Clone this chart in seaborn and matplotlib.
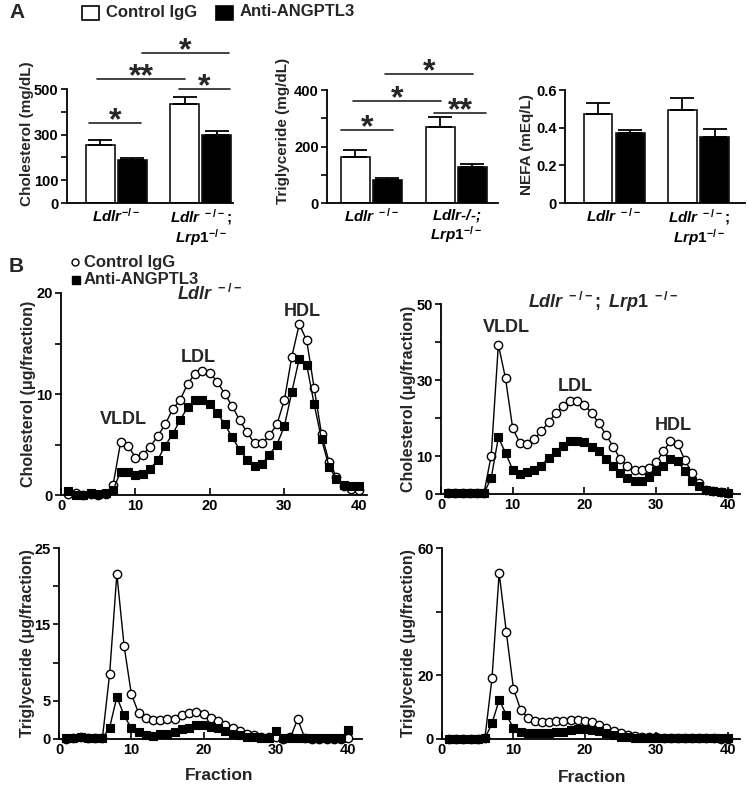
import numpy as np
import pandas as pd
import matplotlib
matplotlib.use("Agg")
import matplotlib.pyplot as plt
import seaborn as sns
from matplotlib.patches import Rectangle
from matplotlib.lines import Line2D

# ---------------- data ----------------
groups = ["Ldlr", "Ldlr;Lrp1"]
treatments = ["Control IgG", "Anti-ANGPTL3"]

chol_ctrl = [256, 434]
chol_ctrl_err = [22, 31]
chol_anti = [187, 297]
chol_anti_err = [12, 20]

tg_ctrl = [162, 268]
tg_ctrl_err = [26, 36]
tg_anti = [80, 126]
tg_anti_err = [7, 13]

nefa_ctrl = [0.473, 0.494]
nefa_ctrl_err = [0.058, 0.065]
nefa_anti = [0.371, 0.353]
nefa_anti_err = [0.014, 0.039]

fractions = list(range(1, 41))

chol_ldlr_ctrl = [0.1, 0.2, 0.0, 0.1, 0.0, 0.1, 1.0, 5.2, 4.9, 3.7, 4.0, 4.8, 5.85, 7.0, 8.5, 9.4, 11.0, 12.0, 12.3, 12.1,
                  11.2, 10.0, 8.8, 7.4, 6.2, 5.1, 5.1, 5.9, 7.0, 9.4, 13.7, 16.9, 15.3, 10.6, 6.0, 3.3, 1.8, 0.9, 0.6, 0.5]
chol_ldlr_anti = [0.4, 0.0, 0.0, 0.2, 0.1, 0.2, 0.5, 2.3, 2.3, 2.0, 2.05, 2.6, 3.5, 4.9, 6.05, 7.4, 8.7, 9.4, 9.4, 9.0,
                  8.1, 7.0, 5.7, 4.5, 3.5, 2.9, 3.1, 4.0, 5.0, 6.8, 10.2, 13.5, 12.9, 9.0, 5.5, 2.8, 1.6, 1.0, 0.9, 0.9]
chol_dko_ctrl = [0.2, 0.2, 0.2, 0.2, 0.2, 0.3, 10.1, 39.3, 30.4, 17.3, 13.4, 13.2, 14.5, 16.5, 18.9, 21.2, 23.1, 24.4, 24.4, 23.5,
                 21.3, 18.7, 15.6, 12.5, 9.2, 7.3, 6.4, 6.4, 6.8, 8.3, 11.2, 13.9, 13.2, 9.0, 5.5, 2.9, 1.1, 0.7, 0.5, 0.3]
chol_dko_anti = [0.2, 0.2, 0.2, 0.2, 0.2, 0.3, 4.2, 14.9, 10.8, 6.4, 5.3, 5.7, 6.4, 7.5, 9.5, 11.1, 12.6, 13.9, 13.9, 13.6,
                 12.5, 11.2, 9.2, 7.3, 5.5, 4.2, 3.5, 3.5, 4.6, 6.1, 7.5, 9.2, 8.6, 6.1, 3.5, 2.0, 1.1, 0.7, 0.5, 0.3]
tg_ldlr_ctrl = [0.0, 0.1, 0.2, 0.1, 0.1, 0.1, 8.5, 21.6, 12.2, 5.9, 3.4, 2.8, 2.5, 2.5, 2.6, 2.6, 3.1, 3.4, 3.5, 3.3,
                2.8, 2.3, 1.8, 1.4, 1.1, 0.7, 0.5, 0.3, 0.2, 0.2, 0.0, 0.2, 2.6, 0.1, 0.05, 0.05, 0.05, 0.05, 0.05, 0.1]
tg_ldlr_anti = [0.1, 0.1, 0.2, 0.1, 0.1, 0.1, 1.5, 5.5, 3.1, 1.4, 0.9, 0.5, 0.4, 0.6, 0.7, 0.9, 1.3, 1.5, 1.8, 1.8,
                1.6, 1.4, 1.0, 0.7, 0.5, 0.3, 0.2, 0.1, 0.1, 1.0, 0.1, 0.1, 0.1, 0.1, 0.1, 0.1, 0.1, 0.1, 0.1, 1.2]
tg_dko_ctrl = [0.1, 0.1, 0.1, 0.1, 0.1, 0.2, 19.2, 52.1, 33.6, 15.8, 9.2, 6.7, 5.5, 5.2, 5.2, 5.6, 5.8, 6.0, 6.0, 5.7,
               5.2, 4.4, 3.4, 2.5, 1.8, 1.3, 0.9, 0.7, 0.6, 0.5, 0.4, 0.4, 0.3, 0.3, 0.3, 0.2, 0.2, 0.2, 0.1, 0.1]
tg_dko_anti = [0.1, 0.1, 0.1, 0.1, 0.1, 0.2, 4.9, 12.3, 7.6, 3.4, 2.3, 2.0, 1.8, 1.8, 2.0, 2.2, 2.3, 2.8, 3.0, 3.0,
               2.8, 2.6, 1.8, 1.3, 0.7, 0.5, 0.3, 0.2, 0.2, 0.2, 0.2, 0.2, 0.2, 0.2, 0.2, 0.2, 0.2, 0.2, 0.2, 0.2]

# ---------------- style ----------------
sns.set_theme(style="ticks")
plt.rcParams["font.family"] = ["Liberation Sans", "DejaVu Sans"]
plt.rcParams["font.weight"] = "bold"
plt.rcParams["axes.linewidth"] = 1.3
plt.rcParams["axes.edgecolor"] = "black"
plt.rcParams["xtick.color"] = "black"
plt.rcParams["ytick.color"] = "black"
plt.rcParams["mathtext.fontset"] = "custom"
plt.rcParams["mathtext.rm"] = "Liberation Sans:bold"
plt.rcParams["mathtext.it"] = "Liberation Sans:italic:bold"
plt.rcParams["mathtext.bf"] = "Liberation Sans:bold"

W, H = 747, 787
fig = plt.figure(figsize=(W / 100, H / 100), dpi=100)


def add_ax(l, t, r, b):
    return fig.add_axes([l / W, 1 - b / H, (r - l) / W, (b - t) / H])


def ftext(px, py, s, **kw):
    fig.text(px / W, 1 - py / H, s, **kw)


def bar_panel(ax, ctrl, ctrl_err, anti, anti_err, ylim, yticks, yticklabels, ylabel,
              xlabels, xlim, sig, ylab_xy):
    df = pd.DataFrame({"group": groups + groups,
                       "treatment": [treatments[0]] * 2 + [treatments[1]] * 2,
                       "value": ctrl + anti})
    sns.barplot(data=df, x="group", y="value", hue="treatment", order=groups,
                hue_order=treatments, palette=["white", "black"], edgecolor="#111111",
                linewidth=1.2, width=0.76, gap=0.1, errorbar=None, legend=False, ax=ax)
    for p, e in zip(ax.patches, ctrl_err + anti_err):
        xc = p.get_x() + p.get_width() / 2
        ax.errorbar(xc, p.get_height(), yerr=[[0], [e]], color="black", lw=1.3,
                    capsize=8.5, capthick=1.3, zorder=1)
    ax.set_ylim(*ylim)
    ax.set_xlim(*xlim)
    ax.set_yticks(yticks)
    ax.set_yticklabels(yticklabels, fontsize=10.5, fontweight="bold")
    ax.set_xticks([0, 1])
    ax.set_xticklabels(xlabels, fontsize=11, fontweight="bold", fontstyle="italic",
                       linespacing=1.0, va="top")
    ax.tick_params(axis="x", length=0, pad=3)
    ax.tick_params(axis="y", length=4, width=1.2, pad=2, direction="out")
    ax.set_xlabel("")
    ax.set_ylabel(ylabel, fontsize=11, fontweight="bold", va="center")
    ax.yaxis.set_label_coords(*ylab_xy)
    sns.despine(ax=ax)
    for x1, x2, y, s in sig:
        ax.plot([x1, x2], [y, y], color="#222222", lw=1.2, clip_on=False)
        ax.annotate(s, xy=((x1 + x2) / 2, y), xytext=(0, -4.5), textcoords="offset points",
                    ha="center", va="baseline", fontsize=23, fontweight="bold",
                    annotation_clip=False)


def line_panel(ax, ctrl, anti, ylim, yticks, yticklabels, ylabel, xlim, ylab_xy,
               xlabel=None, xlab_xy=None):
    df_c = pd.DataFrame({"fraction": fractions, "value": ctrl})
    df_a = pd.DataFrame({"fraction": fractions, "value": anti})
    sns.lineplot(data=df_c, x="fraction", y="value", color="black", linewidth=1.0,
                 marker="o", markersize=6, markerfacecolor="white",
                 markeredgecolor="black", markeredgewidth=1.0, clip_on=False, ax=ax,
                 zorder=3)
    sns.lineplot(data=df_a, x="fraction", y="value", color="black", linewidth=1.0,
                 marker="s", markersize=5.2, markerfacecolor="black",
                 markeredgecolor="black", markeredgewidth=0.8, clip_on=False, ax=ax,
                 zorder=4)
    ax.set_xlim(*xlim)
    ax.set_ylim(*ylim)
    ax.set_xticks([0, 10, 20, 30, 40])
    ax.set_xticklabels(["0", "10", "20", "30", "40"], fontsize=10.5, fontweight="bold")
    ax.set_yticks(yticks)
    ax.set_yticklabels(yticklabels, fontsize=10.5, fontweight="bold")
    ax.tick_params(axis="x", direction="in", length=5, width=1.2, pad=3)
    ax.tick_params(axis="y", direction="out", length=4, width=1.2, pad=2)
    ax.set_ylabel(ylabel, fontsize=11.5, fontweight="bold", va="center")
    ax.yaxis.set_label_coords(*ylab_xy)
    if xlabel:
        ax.set_xlabel(xlabel, fontsize=12.5, fontweight="bold", va="center")
        ax.xaxis.set_label_coords(*xlab_xy)
    else:
        ax.set_xlabel("")
    sns.despine(ax=ax)


# ---------------- panel A ----------------
ax1 = add_ax(67, 89, 233, 203)
bar_panel(ax1, chol_ctrl, chol_ctrl_err, chol_anti, chol_anti_err,
          (0, 500), [0, 100, 200, 300, 400, 500], ["0", "100", "", "300", "", "500"],
          "Cholesterol (mg/dL)",
          [r"$Ldlr^{-/-}$", "$Ldlr^{\\ -/-};$\n$Lrp\\mathit{1}^{-/-}$"],
          (-0.58, 1.38),
          [(-0.32, 0.29, 351, "*"), (-0.22, 0.81, 545, "**"),
           (0.31, 1.33, 658, "*"), (0.74, 1.34, 500, "*")],
          (-0.24, 0.61))

ax2 = add_ax(327, 90, 498, 203)
bar_panel(ax2, tg_ctrl, tg_ctrl_err, tg_anti, tg_anti_err,
          (0, 400), [0, 100, 200, 300, 400], ["0", "", "200", "", "400"],
          "Triglyceride (mg/dL)",
          [r"$Ldlr^{\ -/-}$", "$Ldlr$-/-;\n$Lrp\\mathit{1}^{-/-}$"],
          (-0.52, 1.49),
          [(-0.35, 0.26, 259, "*"), (-0.21, 0.82, 361, "*"),
           (0.16, 1.20, 456, "*"), (0.74, 1.35, 318, "**")],
          (-0.26, 0.64))

ax3 = add_ax(565, 90, 745, 203)
bar_panel(ax3, nefa_ctrl, nefa_ctrl_err, nefa_anti, nefa_anti_err,
          (0, 0.6), [0, 0.2, 0.4, 0.6], ["0", "0.2", "0.4", "0.6"],
          "NEFA (mEq/L)",
          [r"$Ldlr^{\ -/-}$", "$Ldlr^{\\ -/-};$\n$Lrp\\mathit{1}^{-/-}$"],
          (-0.58, 1.55), [], (-0.21, 0.52))

ftext(9, 13, "A", fontsize=15, fontweight="bold", ha="left", va="center")
fig.add_artist(Rectangle((82 / W, 1 - 20 / H), 17 / W, 14 / H, transform=fig.transFigure,
                         facecolor="white", edgecolor="black", lw=1.2))
ftext(106, 12, "Control IgG", fontsize=12, fontweight="bold", ha="left", va="center")
fig.add_artist(Rectangle((216 / W, 1 - 20 / H), 17 / W, 14 / H, transform=fig.transFigure,
                         facecolor="black", edgecolor="black", lw=1.2))
ftext(240, 12, "Anti-ANGPTL3", fontsize=12, fontweight="bold", ha="left", va="center")

# ---------------- panel B ----------------
axTL = add_ax(61, 293, 367, 495)
line_panel(axTL, chol_ldlr_ctrl, chol_ldlr_anti, (0, 20), [0, 5, 10, 15, 20],
           ["0", "", "10", "", "20"], "Cholesterol (\u03bcg/fraction)", (0, 41.1),
           (-0.105, 0.5))
axTR = add_ax(441, 304, 740, 494)
line_panel(axTR, chol_dko_ctrl, chol_dko_anti, (0, 50), [0, 10, 20, 30, 40, 50],
           ["0", "10", "", "30", "", "50"], "Cholesterol (\u03bcg/fraction)", (0, 41.7),
           (-0.108, 0.5))
axBL = add_ax(59, 548, 362, 739)
line_panel(axBL, tg_ldlr_ctrl, tg_ldlr_anti, (0, 25), [0, 5, 10, 15, 20, 25],
           ["0", "5", "", "15", "", "25"], "Triglyceride (\u03bcg/fraction)", (0, 41.9),
           (-0.105, 0.5), "Fraction", (0.53, -0.19))
axBR = add_ax(442, 548, 740, 739)
line_panel(axBR, tg_dko_ctrl, tg_dko_anti, (0, 60), [0, 20, 40, 60],
           ["0", "20", "", "60"], "Triglyceride (\u03bcg/fraction)", (0, 41.7),
           (-0.114, 0.5), "Fraction", (0.503, -0.2))

ftext(9, 266, "B", fontsize=15, fontweight="bold", ha="left", va="center")
fig.add_artist(Line2D([75 / W], [1 - 262 / H], marker="o", markersize=5,
                      markerfacecolor="white", markeredgecolor="black", markeredgewidth=1,
                      transform=fig.transFigure))
ftext(84, 262, "Control IgG", fontsize=12, fontweight="bold", ha="left", va="center")
fig.add_artist(Line2D([76 / W], [1 - 280 / H], marker="s", markersize=5.5,
                      markerfacecolor="black", markeredgecolor="black",
                      transform=fig.transFigure))
ftext(84, 280, "Anti-ANGPTL3", fontsize=12, fontweight="bold", ha="left", va="center")

# region annotations
ftext(210, 294, r"$Ldlr^{\ -/-}$", fontsize=13, ha="center", va="center")
ftext(123, 419, "VLDL", fontsize=13, fontweight="bold", ha="center", va="center")
ftext(198, 357, "LDL", fontsize=13, fontweight="bold", ha="center", va="center")
ftext(302, 311, "HDL", fontsize=13, fontweight="bold", ha="center", va="center")

ftext(603, 302, r"$Ldlr^{\ -/-};\ Lrp\mathit{1}^{\ -/-}$", fontsize=13, ha="center", va="center")
ftext(506, 328, "VLDL", fontsize=13, fontweight="bold", ha="center", va="center")
ftext(575, 386, "LDL", fontsize=13, fontweight="bold", ha="center", va="center")
ftext(673, 426, "HDL", fontsize=13, fontweight="bold", ha="center", va="center")

fig.savefig("out.png", dpi=100, facecolor="white")
